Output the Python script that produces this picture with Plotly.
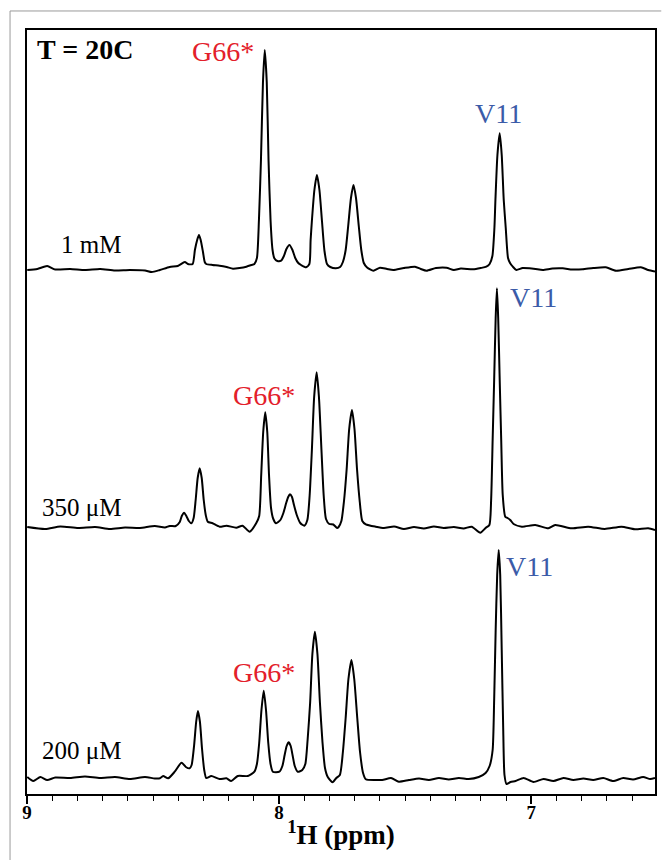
import plotly.graph_objects as go

# ---- data: chemical shift (ppm) and intensity (a.u., baseline = 0) ----
ppm_1mM = [8.999, 8.959, 8.920, 8.888, 8.829, 8.770, 8.710, 8.651, 8.592, 8.532, 8.505, 8.473, 8.434, 8.402,
           8.374, 8.362, 8.343, 8.334, 8.325, 8.318, 8.311, 8.302, 8.295, 8.289, 8.264, 8.236, 8.208, 8.183,
           8.157, 8.130, 8.109, 8.098, 8.088, 8.080, 8.072, 8.064, 8.057, 8.049, 8.042, 8.034, 8.026, 8.019,
           8.007, 7.992, 7.981, 7.971, 7.959, 7.947, 7.936, 7.924, 7.913, 7.893, 7.880, 7.875, 7.870, 7.860,
           7.850, 7.840, 7.830, 7.820, 7.810, 7.797, 7.775, 7.758, 7.747, 7.736, 7.726, 7.715, 7.705, 7.695,
           7.684, 7.674, 7.664, 7.651, 7.626, 7.600, 7.572, 7.547, 7.505, 7.461, 7.438, 7.415, 7.378, 7.336,
           7.307, 7.279, 7.231, 7.200, 7.178, 7.165, 7.154, 7.146, 7.142, 7.134, 7.125, 7.117, 7.109, 7.101,
           7.092, 7.084, 7.073, 7.059, 7.034, 7.007, 6.983, 6.954, 6.916, 6.875, 6.837, 6.796, 6.754, 6.704,
           6.664, 6.615, 6.565, 6.536, 6.509]
int_1mM = [-2, -1, 2, -1.5, -1, -2, -1, -2.5, -2, -2.5, -4, -2, 1, 2,
           6, 4, 4, 18, 28, 33, 28, 16, 6, 4, 3, 2.3, 1, -0.7,
           0, 1.3, 3, 4, 10, 48, 108, 186, 218, 186, 108, 48, 18, 9.7,
           7, 7.3, 12, 19, 23, 18, 10, 5, 3, 0.7, 4, 28, 47, 78,
           93, 78, 47, 17, 4, 1, -0.3, 1, 6, 18, 42, 70, 83, 70,
           42, 18, 5, 0.5, -2.7, 0.3, -1, -2, 0, 1.3, -1, -2.7, 0, 0.3,
           -2, -0.5, -1.3, 0, 1.3, 4, 12, 40, 68, 113, 134.7, 113, 68, 40,
           10, 5, 1.3, -2, 0, -0.3, -1, -2, -0.5, -0.3, -1.5, -1.3, 0, 0.7,
           -2.7, -1, 0.7, -2, -3.5]

ppm_350uM = [8.999, 8.928, 8.868, 8.797, 8.730, 8.671, 8.611, 8.552, 8.493, 8.453, 8.434, 8.410, 8.394, 8.386,
             8.377, 8.368, 8.358, 8.348, 8.339, 8.331, 8.323, 8.315, 8.307, 8.299, 8.291, 8.283, 8.264, 8.236,
             8.209, 8.170, 8.145, 8.117, 8.091, 8.079, 8.071, 8.063, 8.055, 8.047, 8.040, 8.032, 8.023, 8.012,
             7.995, 7.983, 7.972, 7.964, 7.957, 7.949, 7.941, 7.930, 7.916, 7.900, 7.888, 7.879, 7.870, 7.861,
             7.851, 7.842, 7.832, 7.823, 7.814, 7.801, 7.785, 7.770, 7.764, 7.753, 7.743, 7.732, 7.722, 7.711,
             7.701, 7.691, 7.680, 7.670, 7.656, 7.617, 7.584, 7.544, 7.505, 7.465, 7.426, 7.386, 7.347, 7.307,
             7.268, 7.236, 7.202, 7.181, 7.166, 7.159, 7.153, 7.147, 7.141, 7.136, 7.131, 7.125, 7.119, 7.113,
             7.103, 7.094, 7.083, 7.070, 7.037, 6.984, 6.932, 6.905, 6.840, 6.774, 6.708, 6.642, 6.589, 6.536,
             6.509]
int_350uM = [0, -2, 0.5, -1, 0, -2, -0.5, -1, 1, -0.5, 1, 1, 5, 11,
             14.3, 11, 6, 3.7, 9, 27, 49, 58.7, 49, 27, 12, 5.3, 3.7, 0.3,
             1.3, -0.7, 1.3, -4.7, 3.7, 11, 52, 95, 114.7, 95, 52, 19, 8, 3.7,
             7, 14, 24, 30, 32.7, 30, 22, 12, 4, 1.3, 7, 31, 77, 130,
             154.7, 130, 77, 31, 8, 3, 2.5, -1, 0, 6, 25, 58, 98, 117,
             98, 58, 25, 6, 2.7, 0.3, -1, 0.5, -2, 0, -1.5, 0.5, -1, 0,
             -1.5, 0.3, -5.7, -1, 2, 27, 87, 147, 209, 238.7, 209, 147, 87, 32,
             10.3, 9, 7, 3, 0.3, 2, -1.3, 2, -1.3, 0.3, -2, 0.3, -2.3, -1.3,
             -3]

ppm_200uM = [8.999, 8.975, 8.947, 8.920, 8.888, 8.829, 8.770, 8.710, 8.651, 8.592, 8.532, 8.493, 8.473, 8.460,
             8.440, 8.414, 8.387, 8.370, 8.355, 8.347, 8.337, 8.329, 8.322, 8.314, 8.306, 8.297, 8.289, 8.269,
             8.236, 8.209, 8.190, 8.164, 8.124, 8.098, 8.088, 8.079, 8.070, 8.061, 8.052, 8.043, 8.034, 8.025,
             7.999, 7.987, 7.978, 7.970, 7.962, 7.954, 7.946, 7.938, 7.926, 7.908, 7.896, 7.887, 7.877, 7.868,
             7.858, 7.848, 7.838, 7.828, 7.818, 7.807, 7.788, 7.773, 7.759, 7.747, 7.736, 7.725, 7.713, 7.702,
             7.690, 7.679, 7.667, 7.656, 7.617, 7.591, 7.556, 7.525, 7.485, 7.445, 7.406, 7.366, 7.327, 7.287,
             7.248, 7.208, 7.181, 7.165, 7.153, 7.147, 7.141, 7.135, 7.129, 7.123, 7.117, 7.111, 7.106, 7.098,
             7.082, 7.062, 7.030, 6.991, 6.951, 6.912, 6.872, 6.833, 6.793, 6.754, 6.714, 6.675, 6.635, 6.596,
             6.556, 6.528, 6.509]
int_200uM = [0, -4, 0, -3, -0.5, -1, 0.5, -1, 0, -2, 0, -1.5, -1.3, 1,
             -1.3, 5.3, 14.3, 10, 8.7, 12, 32, 55, 66, 55, 29, 7, -1, 1,
             -2, -1.3, -4, 1, 1, 5.3, 13, 34, 67, 86.3, 67, 34, 13, 5.3,
             5.3, 11, 22, 31, 34.7, 31, 21, 11, 5.3, 7, 13, 37, 74, 123,
             145.3, 123, 74, 35, 9, 0, -5.3, -1, 2, 25, 59, 98, 117, 98,
             59, 25, 4, -2.3, -3, -3, -1, -4.7, -3, -1.5, -3, -1, -2.5, -1,
             -2, 0, 4, 11, 27, 77, 147, 202, 227, 202, 127, 47, 2, -7,
             -5, -4, -1, -5, -2, -4, -1, -3, -1.5, -3, -1, -4, -1, -2.5,
             0, -2, -1]

concentration_labels = ["1 mM", "350 μM", "200 μM"]
peak_labels = ["G66*", "V11"]
temperature_label = "T = 20C"
tick_values = [9, 8, 7]
tick_labels = ["9", "8", "7"]

# ---- layout constants ----
offsets = [526, 267, 17]          # vertical stacking of the spectra
SERIF = "Liberation Serif"
RED = "#e3202a"
BLUE = "#3b5ba8"

fig = go.Figure()
for xs, ys, off in zip([ppm_1mM, ppm_350uM, ppm_200uM],
                       [int_1mM, int_350uM, int_200uM], offsets):
    fig.add_trace(go.Scatter(
        x=xs, y=[v + off for v in ys], mode="lines",
        line=dict(color="black", width=2, shape="spline", smoothing=0.6),
        showlegend=False, hoverinfo="skip"))

ann = []
def label(x, y, text, color="black", size=25, bold=False, xanchor="center"):
    ann.append(dict(x=x, y=y, xref="x", yref="y", text=text, showarrow=False,
                    xanchor=xanchor, yanchor="middle",
                    font=dict(family=SERIF, size=size, color=color,
                              weight="bold" if bold else "normal")))

label(8.967, 745, temperature_label, bold=True, size=28, xanchor="left")
# 1 mM
label(8.224, 743, peak_labels[0], RED, 28)
label(7.129, 681, peak_labels[1], BLUE, 28)
label(8.745, 550, concentration_labels[0], size=25)
# 350 uM
label(8.058, 399, peak_labels[0], RED, 28)
label(6.991, 497, peak_labels[1], BLUE, 28)
label(8.785, 287, concentration_labels[1], size=25)
# 200 uM
label(8.060, 122, peak_labels[0], RED, 28)
label(7.007, 228, peak_labels[1], BLUE, 28)
label(8.785, 44, concentration_labels[2], size=25)

fig.update_layout(
    width=662, height=860,
    margin=dict(l=27, r=5, t=30, b=66),
    paper_bgcolor="white", plot_bgcolor="white",
    annotations=ann,
    shapes=[
        dict(type="line", xref="paper", yref="paper", x0=-0.027, x1=1.01, y0=1.0249, y1=1.0249,
             line=dict(color="#9a9a9a", width=1)),
        dict(type="line", xref="paper", yref="paper", x0=-0.027, x1=-0.027, y0=1.0249, y1=-0.09,
             line=dict(color="#9a9a9a", width=1)),
    ],
    xaxis=dict(
        range=[9, 6.509], showline=True, mirror=True, linecolor="black", linewidth=1.5,
        showgrid=False, zeroline=False,
        tickmode="array", tickvals=tick_values, ticktext=tick_labels,
        ticks="outside", ticklen=8, tickwidth=1.5, tickcolor="black",
        ticklabelstandoff=-8,
        tickfont=dict(family=SERIF, size=19, color="black", weight="bold"),
        minor=dict(tickmode="linear", tick0=9, dtick=0.1, ticks="outside", ticklen=5,
                   tickwidth=1.3, tickcolor="black", showgrid=False),
        title=dict(text="<sup>1</sup>H (ppm)", standoff=4,
                   font=dict(family=SERIF, size=27, color="black", weight="bold")),
    ),
    yaxis=dict(
        range=[0, 764], showline=True, mirror=True, linecolor="black", linewidth=1.5,
        showgrid=False, zeroline=False, showticklabels=False, ticks="",
    ),
)

fig.write_html("out.html")
